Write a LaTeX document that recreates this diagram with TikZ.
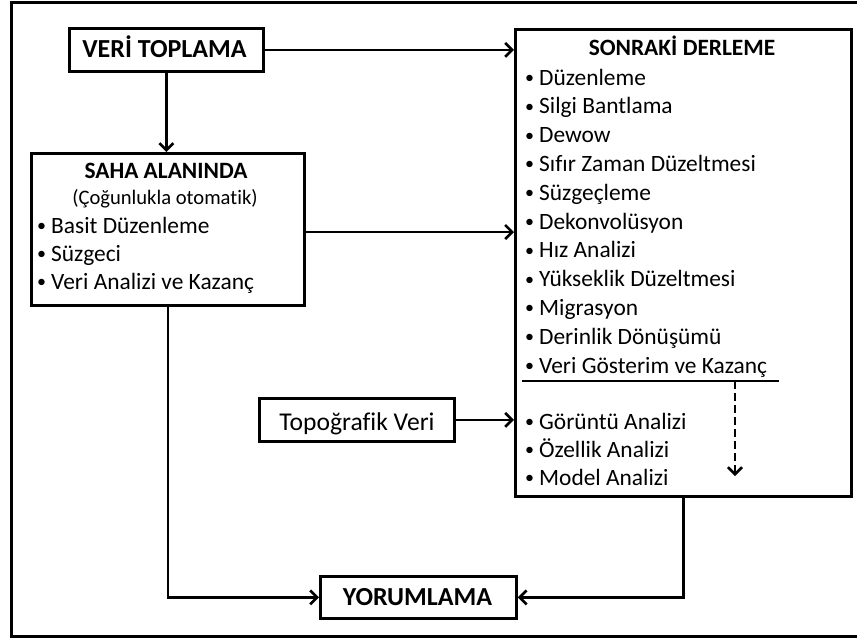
\documentclass[tikz,border=0pt]{standalone}
\usepackage{fontspec}
\setmainfont{Carlito}[Ligatures=NoCommon]
\usetikzlibrary{arrows.meta,calc}
\newcommand{\bul}{\llap{\raisebox{1.6pt}{\fontsize{18}{18}\selectfont•}\hspace{5pt}}}
\begin{document}
\begin{tikzpicture}[x=1pt,y=-1pt,
  box/.style={draw,line width=2.8pt,anchor=north west,inner sep=0pt},
  arr/.style={line width=2.6pt,-{Straight Barb[length=7pt,width=14pt]}},
  big/.style={font=\fontsize{26}{30}\selectfont\bfseries,anchor=base,inner sep=0pt},
  head/.style={font=\fontsize{23.4}{28}\selectfont\bfseries,anchor=base,inner sep=0pt},
  body/.style={font=\fontsize{20.6}{25}\selectfont,anchor=base,inner sep=0pt},
  label/.style={font=\fontsize{25.6}{30}\selectfont,anchor=base,inner sep=0pt},
  item/.style={font=\fontsize{23.4}{28}\selectfont,anchor=base west,inner sep=0pt},
]
\useasboundingbox (0,0) rectangle (857,641);
\fill[white] (0,0) rectangle (857,641);
% outer frame
\draw[line width=3pt] (11,2) rectangle (870,636);

% boxes
\node[box,minimum width=194pt,minimum height=43pt] (veri) at (68,27) {};
\node[box,minimum width=273pt,minimum height=152pt] (saha) at (30,152) {};
\node[box,minimum width=336pt,minimum height=467pt] (son) at (514,28) {};
\node[box,minimum width=195pt,minimum height=43pt] (topo) at (258,397) {};
\node[box,minimum width=196pt,minimum height=42pt] (yorum) at (319,575) {};

% box texts
\node[big] (veriT) at (164.5,57.3) {VERİ TOPLAMA};
\node[big] (yorumT) at (417.5,605) {YORUMLAMA};
\node[label] (topoT) at (357,430) {Topoğrafik Veri};

\node[head] (sahaT) at (166,178.5) {SAHA ALANINDA};
\node[body] (sahaS) at (165,204) {(Çoğunlukla otomatik)};
\foreach \t [count=\i] in {Basit Düzenleme, Süzgeci, Veri Analizi ve Kazanç}
  \node[item] (sa\i) at (51,{233+28*(\i-1)}) {\bul\t};

\node[head] (sonT) at (682,55.7) {SONRAKİ DERLEME};
\foreach \t [count=\i] in {Düzenleme, Silgi Bantlama, Dewow, Sıfır Zaman Düzeltmesi,
    Süzgeçleme, Dekonvolüsyon, Hız Analizi, Yükseklik Düzeltmesi, Migrasyon,
    Derinlik Dönüşümü, Veri Gösterim ve Kazanç}
  \node[item] (so\i) at (539,{85+28.8*(\i-1)}) {\bul\t};
\foreach \t [count=\i] in {Görüntü Analizi, Özellik Analizi, Model Analizi}
  \node[item] (sb\i) at (539,{429.5+28*(\i-1)}) {\bul\t};

% divider and dashed flow inside the processing box
\coordinate (divL) at (522,381);
\coordinate (divR) at (779,381);
\draw[line width=2pt] (divL) -- (divR);
\coordinate (dashTop) at (735,381);
\coordinate (dashEnd) at (735,476);
\draw[arr,dash pattern=on 8pt off 4pt] (dashTop) -- (dashEnd);

% connectors
\draw[arr] (veri.east) -- (veri.east -| son.west);
\draw[arr] (veri.south) -- (veri.south |- saha.north);
\coordinate (sahaOut) at ($(saha.north east)+(0,80)$);
\draw[arr] (sahaOut) -- (sahaOut -| son.west);
\draw[arr] (topo.east) -- (topo.east -| son.west);
\draw[arr] (saha.south) |- (yorum.west);
\draw[arr] (son.south) |- (yorum.east);
\end{tikzpicture}
\end{document}
